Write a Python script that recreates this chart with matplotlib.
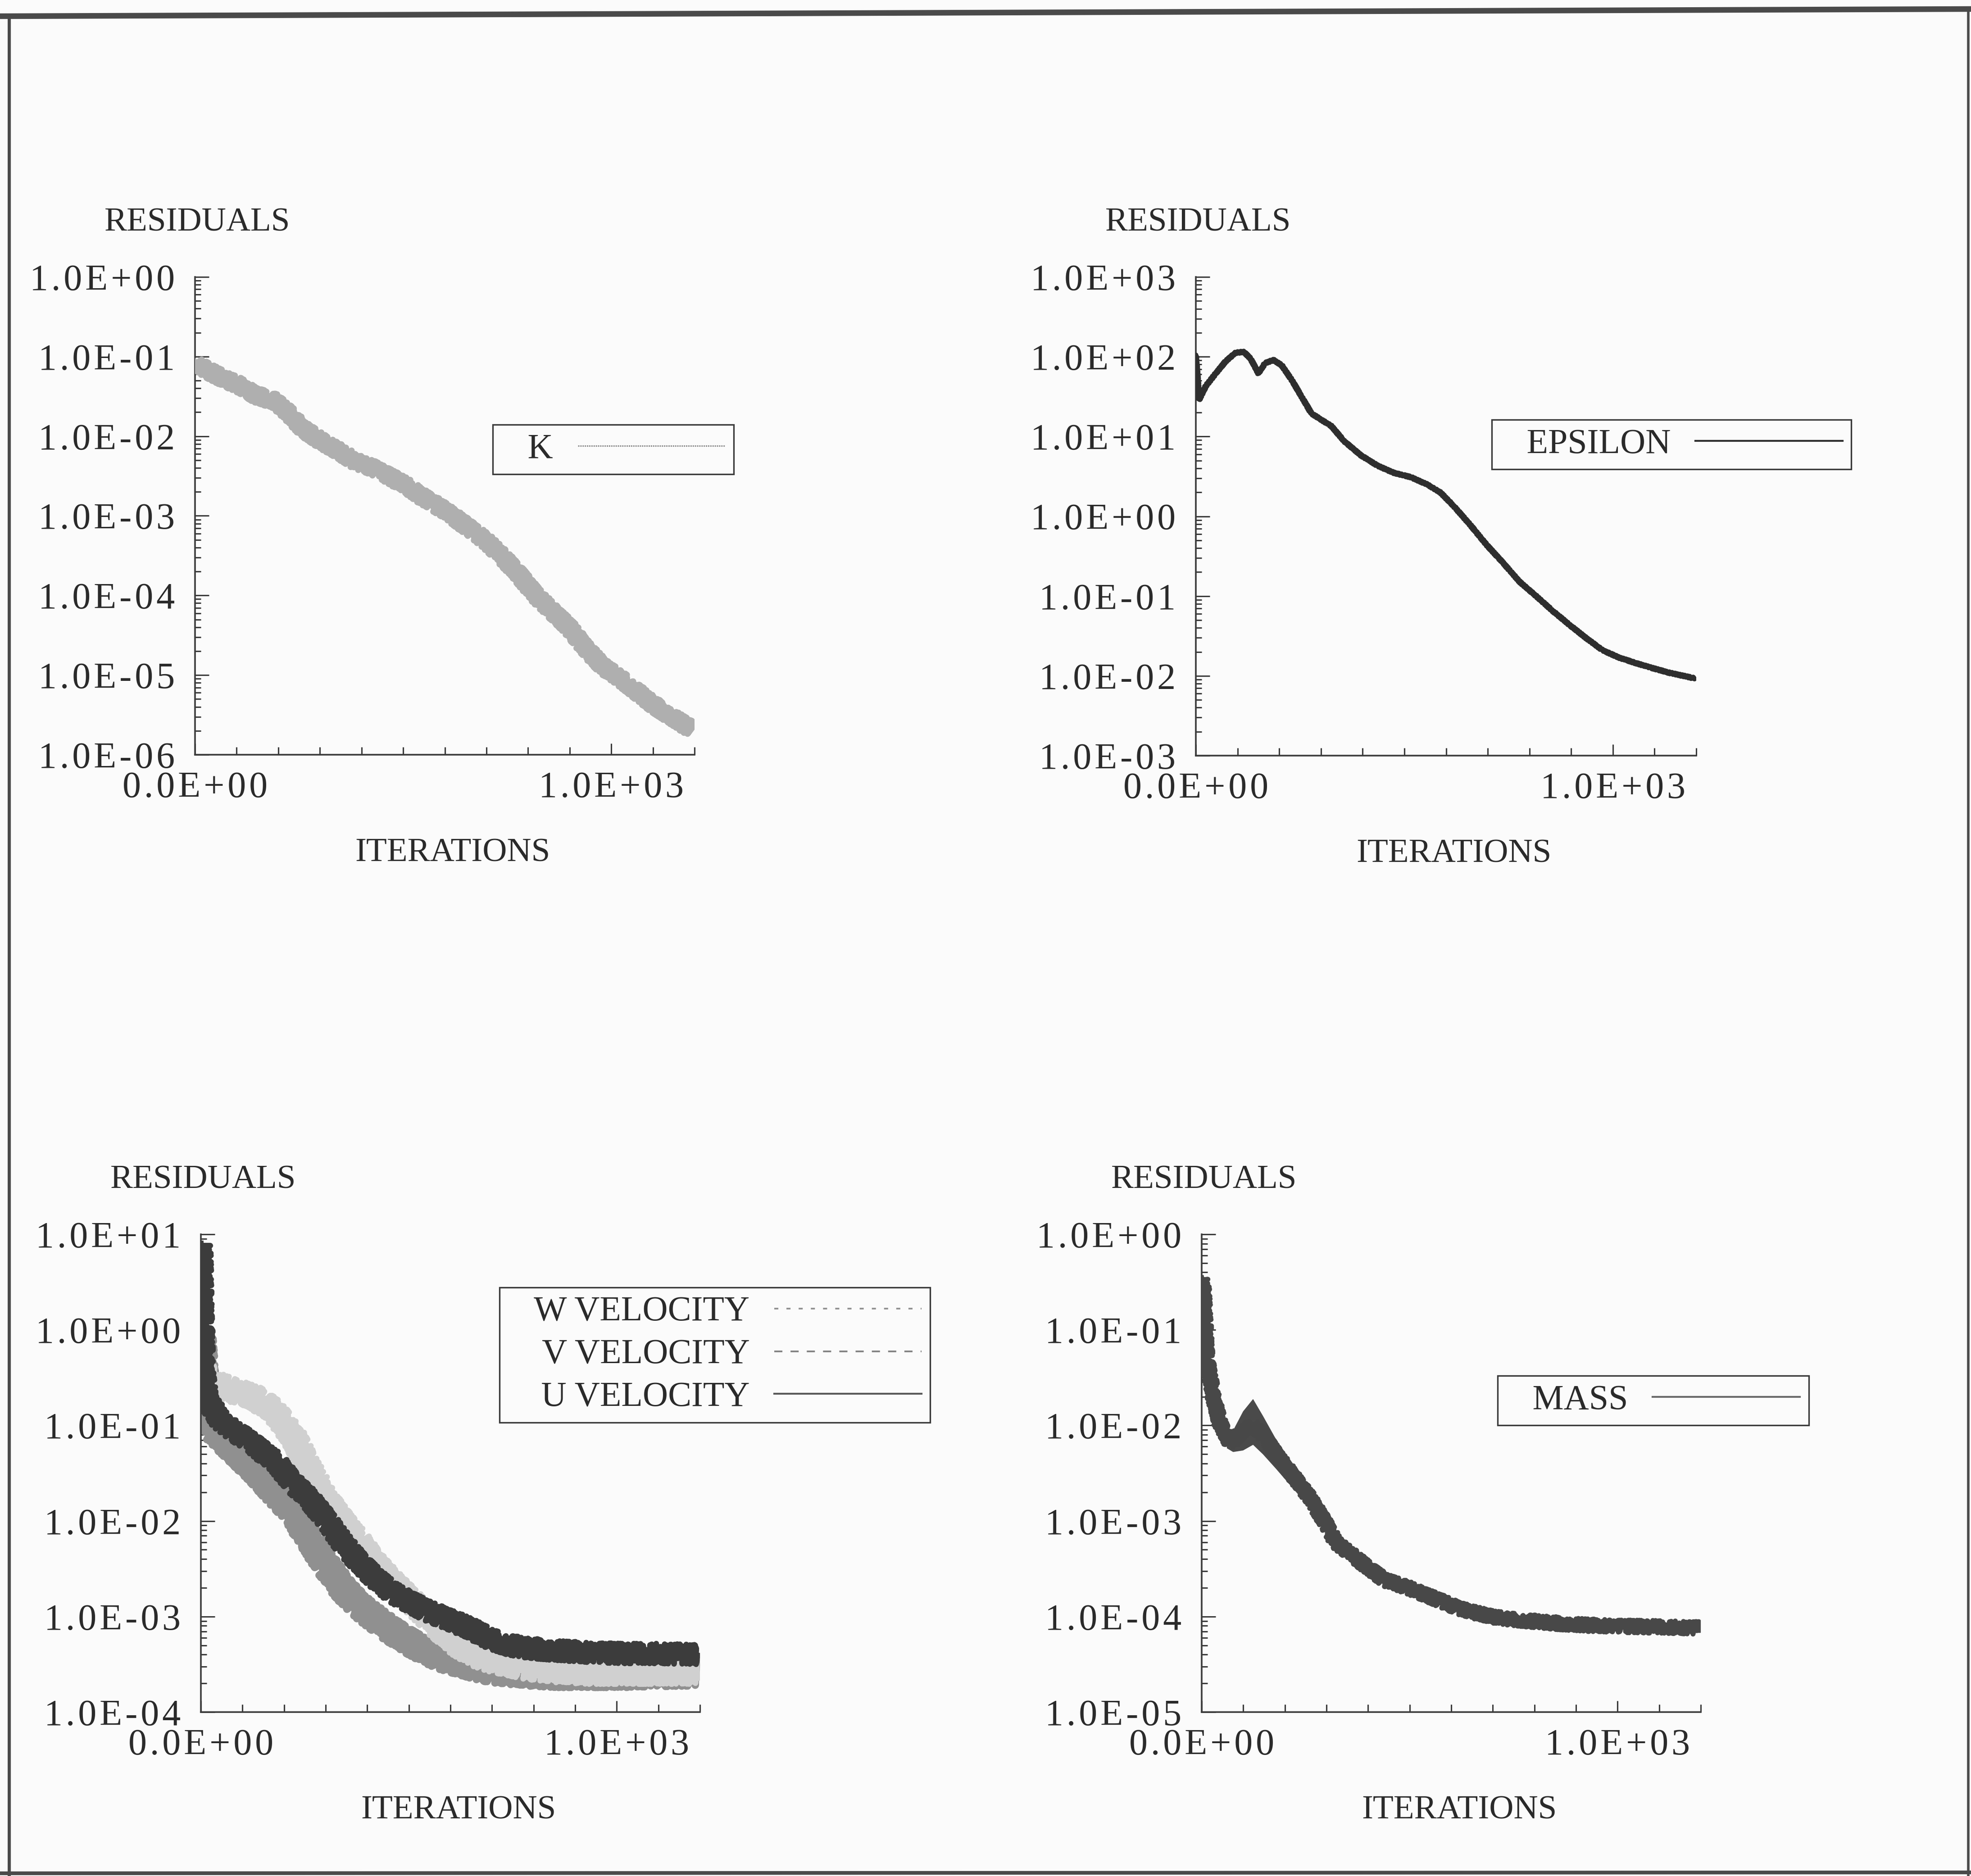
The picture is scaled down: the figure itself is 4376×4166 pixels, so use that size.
import matplotlib.pyplot as plt
import numpy as np
from matplotlib.lines import Line2D
from matplotlib.ticker import (FixedFormatter, FixedLocator, LogLocator,
                               MultipleLocator, NullFormatter)

W, H = 4376, 4166
SERIF = ['Liberation Serif', 'DejaVu Serif']
INK = '#2a2a2a'
AXIS = '#3a3a3a'

# residual histories (iteration, residual)
k_iter = [0, 6, 65, 105, 144, 192, 224, 263, 303, 343, 383, 422, 462, 502,
          541, 581, 621, 660, 700, 740, 779, 819, 859, 898, 938, 978, 1017,
          1057, 1097, 1137, 1192]
k_res = [8.5e-2, 7.8e-2, 5.4e-2, 4.4e-2, 3.3e-2, 2.75e-2, 1.95e-2, 1.2e-2,
         8.7e-3, 6.6e-3, 4.9e-3, 4.1e-3, 3.2e-3, 2.5e-3, 1.8e-3, 1.35e-3,
         9.8e-4, 6.9e-4, 4.8e-4, 3.0e-4, 1.8e-4, 1.0e-4, 6.3e-5, 4.0e-5,
         2.2e-5, 1.3e-5, 9.5e-6, 6.5e-6, 4.4e-6, 3.2e-6, 2.1e-6]

eps_iter = [0, 8, 24, 48, 71, 95, 115, 131, 150, 166, 186, 206, 230, 253,
            277, 301, 325, 356, 396, 436, 475, 515, 555, 586, 618, 658, 697,
            737, 777, 816, 856, 895, 935, 975, 1014, 1054, 1093, 1133, 1196]
eps_res = [105, 29, 43, 62, 87, 112, 115, 95, 62, 83, 91, 78, 51, 32, 19.5,
           16.2, 13.5, 8.7, 5.8, 4.3, 3.5, 3.1, 2.5, 2.0, 1.35, 0.78, 0.44,
           0.26, 0.15, 0.10, 0.065, 0.044, 0.030, 0.021, 0.017, 0.0145,
           0.0126, 0.011, 0.0093]

u_iter = [0, 3, 7, 14, 46, 78, 110, 141, 181, 221, 261, 300, 340, 380, 420,
          459, 499, 539, 579, 618, 658, 698, 737, 777, 857, 936, 1016, 1095,
          1194]
u_res = [8.0, 1.5, 0.35, 0.19, 0.115, 0.089, 0.071, 0.056, 0.041, 0.025,
         0.017, 0.0105, 0.0060, 0.0037, 0.0025, 0.0018, 0.00145, 0.00117,
         0.0010, 8.5e-4, 7.1e-4, 5.8e-4, 5.1e-4, 4.7e-4, 4.4e-4, 4.2e-4,
         4.1e-4, 4.1e-4, 4.0e-4]

v_iter = [0, 8, 20, 30, 78, 126, 173, 221, 261, 300, 340, 380, 420, 459, 499,
          539, 579, 618, 658, 698, 777, 857, 936, 1016, 1095, 1194]
v_res = [1.0, 0.3, 0.13, 0.089, 0.056, 0.035, 0.021, 0.0123, 0.0065, 0.0035,
         0.0020, 0.0013, 9.5e-4, 7.1e-4, 5.5e-4, 4.4e-4, 3.7e-4, 3.3e-4,
         2.95e-4, 2.7e-4, 2.5e-4, 2.4e-4, 2.4e-4, 2.4e-4, 2.45e-4, 2.5e-4]

w_iter = [0, 10, 30, 78, 126, 173, 221, 261, 300, 340, 380, 420, 459, 499,
          539, 579, 618, 658, 698, 777, 857, 936, 1016, 1095, 1194]
w_res = [0.5, 0.3, 0.28, 0.23, 0.20, 0.145, 0.078, 0.035, 0.017, 0.0098,
         0.0060, 0.0035, 0.0023, 0.00155, 0.00105, 7.1e-4, 5.1e-4, 4.0e-4,
         3.5e-4, 2.95e-4, 2.7e-4, 2.6e-4, 2.6e-4, 2.6e-4, 2.6e-4]

mass_iter = [0, 4, 12, 28, 44, 68, 75, 99, 123, 147, 179, 219, 258, 298, 322,
             362, 401, 441, 497, 536, 576, 616, 656, 695, 735, 775, 854, 934,
             1013, 1093, 1196]
mass_res = [0.35, 0.26, 0.051, 0.020, 0.0105, 0.0066, 0.0068, 0.0089, 0.010,
            0.0079, 0.0050, 0.0030, 0.0018, 9.5e-4, 6.0e-4, 4.4e-4, 3.2e-4,
            2.4e-4, 2.0e-4, 1.7e-4, 1.45e-4, 1.23e-4, 1.1e-4, 1.0e-4, 9.5e-5,
            9.1e-5, 8.5e-5, 8.1e-5, 7.9e-5, 7.8e-5, 7.6e-5]

# oscillating stretch of the mass residual (lower / upper envelope)
mass_band_iter = [60, 75, 99, 123, 147, 179, 219, 258, 298, 330]
mass_band_lo = [0.0058, 0.0053, 0.0055, 0.0063, 0.0050, 0.0035, 0.0022,
                0.0014, 8.0e-4, 5.5e-4]
mass_band_hi = [0.0075, 0.0089, 0.0141, 0.019, 0.0126, 0.0071, 0.0040,
                0.0022, 0.00112, 6.8e-4]

plt.rcParams['font.family'] = SERIF
plt.rcParams['text.color'] = INK


def spaced(s):
    return '\u200a'.join(s)


def setup(ax, lo_exp, hi_exp):
    ax.set_yscale('log')
    ax.set_ylim(10.0 ** lo_exp, 10.0 ** hi_exp)
    ax.set_xlim(0, 1200)
    ax.set_facecolor('none')
    for side in ('top', 'right'):
        ax.spines[side].set_visible(False)
    for side in ('left', 'bottom'):
        ax.spines[side].set_linewidth(2.6)
        ax.spines[side].set_color(AXIS)

    exps = list(range(lo_exp, hi_exp + 1))
    ax.yaxis.set_major_locator(FixedLocator([10.0 ** e for e in exps]))
    ax.yaxis.set_major_formatter(
        FixedFormatter([spaced(f'1.0E{e:+03d}') for e in exps]))
    ax.yaxis.set_minor_locator(LogLocator(base=10, subs=np.arange(2, 10),
                                          numticks=30))
    ax.yaxis.set_minor_formatter(NullFormatter())
    ax.xaxis.set_major_locator(FixedLocator([0, 1000]))
    ax.xaxis.set_major_formatter(
        FixedFormatter([spaced('0.0E+00'), spaced('1.0E+03')]))
    ax.xaxis.set_minor_locator(MultipleLocator(100))

    ax.tick_params(which='both', direction='in', color=AXIS, width=2.2,
                   labelcolor=INK)
    ax.tick_params(axis='y', which='major', length=22, pad=32, labelsize=59)
    ax.tick_params(axis='y', which='minor', length=9)
    ax.tick_params(axis='x', which='major', length=18, pad=26, labelsize=59)
    ax.tick_params(axis='x', which='minor', length=12)

    ax.text(0.005, 1.113, 'RESIDUALS', transform=ax.transAxes, ha='center',
            va='center', fontsize=54, color=INK)
    ax.text(0.516, -0.206, 'ITERATIONS', transform=ax.transAxes,
            ha='center', va='center', fontsize=54, color=INK)


def noisy(ax, x, y, color, lw, scale=5.0, length=4.0, zorder=3):
    line, = ax.plot(x, y, color=color, lw=lw, solid_joinstyle='round',
                    zorder=zorder)
    line.set_sketch_params(scale=scale, length=length, randomness=3.0)
    return line


def legend(ax, handles, labels, x0, y0):
    leg = ax.legend(handles, labels, loc='upper left',
                    bbox_to_anchor=(x0 / W, 1 - y0 / H),
                    bbox_transform=fig.transFigure, borderaxespad=0,
                    markerfirst=False, frameon=True, fancybox=False,
                    edgecolor=AXIS, framealpha=1, facecolor='#fbfbfb',
                    fontsize=56, handlelength=4.2, handletextpad=0.7,
                    borderpad=0.25, labelspacing=0.3)
    leg.get_frame().set_linewidth(2.4)
    return leg


fig = plt.figure(figsize=(W / 100, H / 100), dpi=100, facecolor='#fbfbfb')

ax_k = fig.add_axes([433 / W, 1 - 1676 / H, 1109 / W, 1061 / H])
ax_e = fig.add_axes([2655 / W, 1 - 1678 / H, 1111 / W, 1063 / H])
ax_v = fig.add_axes([446 / W, 1 - 3802 / H, 1108 / W, 1061 / H])
ax_m = fig.add_axes([2668 / W, 1 - 3802 / H, 1108 / W, 1061 / H])

# K
setup(ax_k, -6, 0)
noisy(ax_k, k_iter, k_res, '#afafaf', 10, scale=16, length=2.5)
legend(ax_k, [Line2D([], [], color='#8c8c8c', lw=2.2, ls=(0, (1, 0.6)))],
       ['   K'], 1094, 943)

# EPSILON
setup(ax_e, -3, 3)
eps_line, = ax_e.plot(eps_iter, eps_res, color='#2e2e2e', lw=8,
                      solid_joinstyle='round', solid_capstyle='round',
                      zorder=3)
eps_line.set_sketch_params(scale=2, length=6, randomness=2)
legend(ax_e, [Line2D([], [], color='#2e2e2e', lw=3)],
       ['   EPSILON'], 3312, 932)

# velocities
setup(ax_v, -4, 1)
noisy(ax_v, v_iter, v_res, '#909090', 12, scale=26, length=2.5, zorder=2)
noisy(ax_v, w_iter, w_res, '#d0d0d0', 9, scale=26, length=2.5, zorder=3)
noisy(ax_v, u_iter, u_res, '#3c3c3c', 9, scale=22, length=2.5, zorder=4)
legend(ax_v,
       [Line2D([], [], color='#8e8e8e', lw=2.6, ls=(0, (2.5, 5))),
        Line2D([], [], color='#7e7e7e', lw=2.6, ls=(0, (5, 5))),
        Line2D([], [], color='#5a5a5a', lw=3)],
       ['   W VELOCITY', '   V VELOCITY', '   U VELOCITY'], 1109, 2859)

# MASS
setup(ax_m, -5, 0)
ax_m.fill_between(mass_band_iter, mass_band_lo, mass_band_hi,
                  color='#4a4a4a', lw=0, zorder=2)
noisy(ax_m, mass_iter, mass_res, '#484848', 8, scale=14, length=2.5)
legend(ax_m, [Line2D([], [], color='#6a6a6a', lw=3)], ['   MASS'], 3325, 3055)

# page frame
frame = dict(transform=fig.transFigure, color='#4a4a4a', solid_capstyle='butt')
fig.add_artist(Line2D([0, 1], [1 - 36 / H, 1 - 20 / H], lw=9, **frame))
fig.add_artist(Line2D([20 / W, 20 / W], [1 - 30 / H, 0], lw=5, **frame))
fig.add_artist(Line2D([4370 / W, 4370 / W], [1 - 20 / H, 0], lw=4, **frame))
fig.add_artist(Line2D([0, 1], [6 / H, 8 / H], lw=6, **frame))

fig.savefig('out.png', dpi=100, facecolor=fig.get_facecolor())
